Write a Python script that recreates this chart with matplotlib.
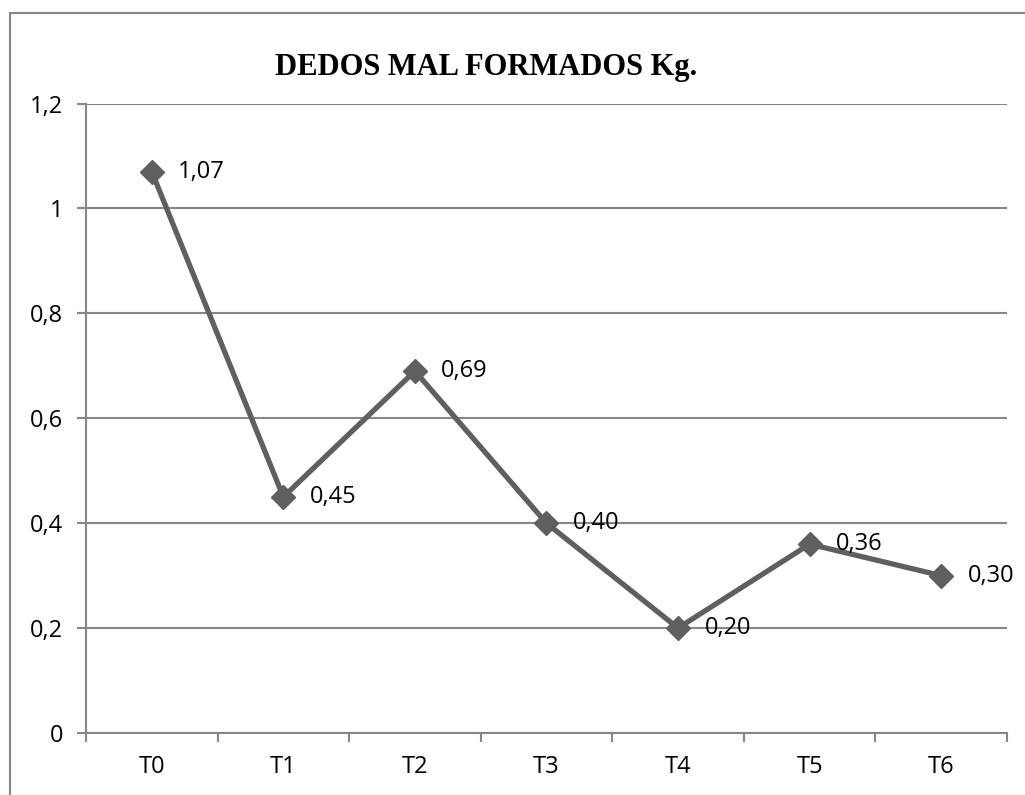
import matplotlib.pyplot as plt
from matplotlib.lines import Line2D

categories = ["T0", "T1", "T2", "T3", "T4", "T5", "T6"]
values = [1.07, 0.45, 0.69, 0.40, 0.20, 0.36, 0.30]
labels = ["1,07", "0,45", "0,69", "0,40", "0,20", "0,36", "0,30"]
yticks = [0, 0.2, 0.4, 0.6, 0.8, 1.0, 1.2]
ytick_labels = ["0", "0,2", "0,4", "0,6", "0,8", "1", "1,2"]

grey = "#878787"
line_c = "#5f5f5f"
fs = 17

fig = plt.figure(figsize=(10.25, 7.95), dpi=100)
ax = fig.add_axes([0.0839, 0.078, 0.8985, 0.7918])

x = list(range(len(categories)))
ax.plot(x, values, color=line_c, lw=3.8, marker="D", ms=12,
        markerfacecolor=line_c, markeredgecolor=line_c, zorder=3)
for xi, v, lab in zip(x, values, labels):
    ax.annotate(lab, (xi, v), xytext=(19, 0), textcoords="offset points",
                va="center", ha="left", fontsize=fs, family="Open Sans",
                color="black", zorder=4)

ax.set_xlim(-0.5, len(categories) - 0.5)
ax.set_ylim(0, 1.2)
ax.set_yticks(yticks)
ax.set_yticklabels(ytick_labels, family="Open Sans", fontsize=fs)
ax.set_xticks(x)
ax.set_xticklabels(categories, family="Open Sans", fontsize=fs)
ax.tick_params(axis="x", length=0, pad=16)
ax.tick_params(axis="y", length=6.5, width=1.5, color=grey, pad=10)
ax.set_xticks([i - 0.5 for i in range(len(categories) + 1)], minor=True)
ax.tick_params(axis="x", which="minor", length=6.5, width=1.5, color=grey)

ax.grid(axis="y", color=grey, lw=1.5)
ax.set_axisbelow(True)
for side in ["top", "right"]:
    ax.spines[side].set_visible(False)
for side in ["left", "bottom"]:
    ax.spines[side].set_color(grey)
    ax.spines[side].set_linewidth(1.5)

fig.text(0.474, 0.915, "DEDOS MAL FORMADOS Kg.", ha="center", va="center",
         family="Liberation Serif", fontweight="bold", fontsize=22)

# outer chart border
fig.add_artist(Line2D([0.0098, 0.0098], [0, 0.9836], color=grey, lw=1.5,
                      transform=fig.transFigure))
fig.add_artist(Line2D([0.0098, 1], [0.9836, 0.9836], color=grey, lw=1.5,
                      transform=fig.transFigure))

fig.savefig("out.png", dpi=100)
